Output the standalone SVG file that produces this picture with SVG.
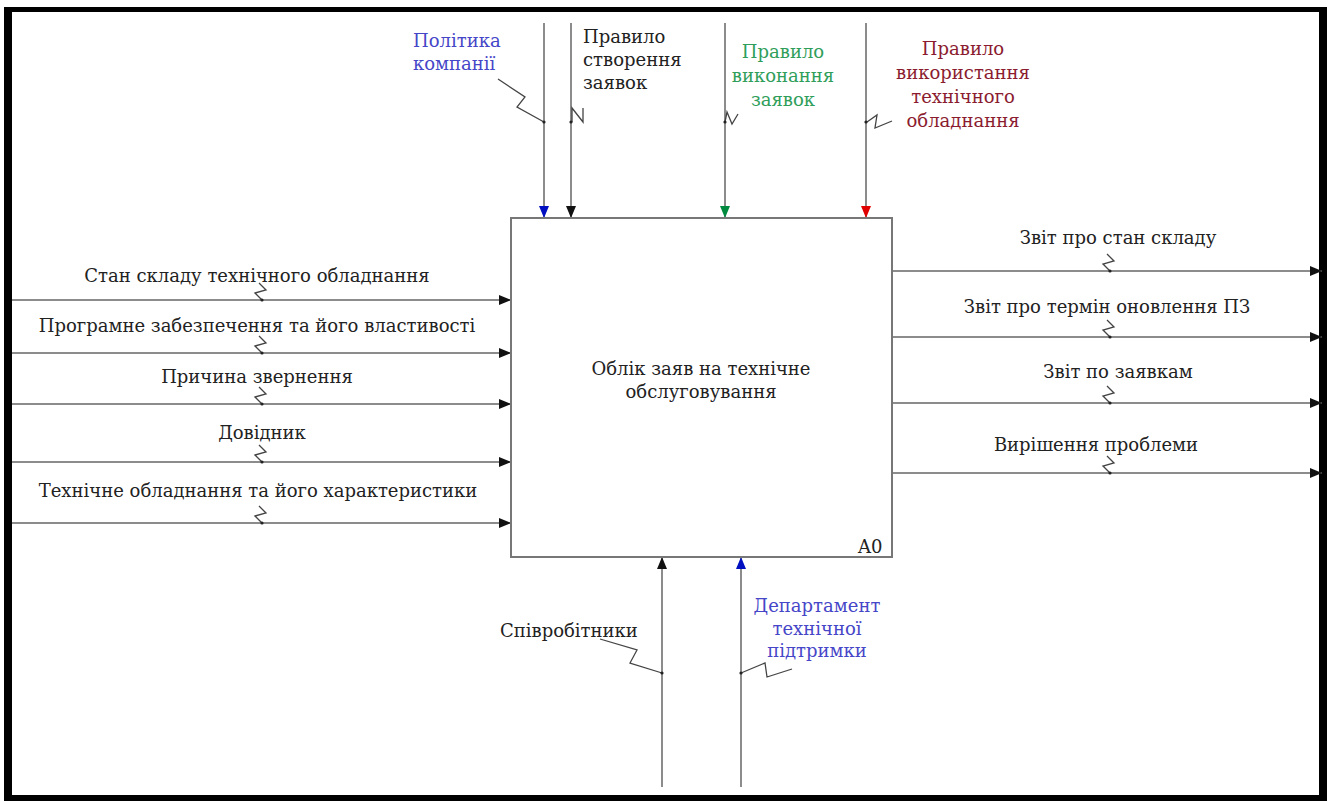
<svg xmlns="http://www.w3.org/2000/svg" width="1333" height="801" viewBox="0 0 1333 801">
<style>
text{font-family:"DejaVu Serif","Liberation Serif",serif;font-size:18px;fill:#222}
.c{text-anchor:middle}
.blue{fill:#4646c8}
.green{fill:#2f9e5a}
.red{fill:#8b1c30}
.ln{stroke:#666;stroke-width:1.5;fill:none}
.sq{stroke:#444;stroke-width:1.3;fill:none}
.dot{fill:#222}
</style>
<defs>
<marker id="aK" markerUnits="userSpaceOnUse" markerWidth="12" markerHeight="10" refX="12" refY="5" orient="auto"><path d="M0,0 L12,5 L0,10 z" fill="#111"/></marker>
<marker id="aB" markerUnits="userSpaceOnUse" markerWidth="12" markerHeight="10" refX="12" refY="5" orient="auto"><path d="M0,0 L12,5 L0,10 z" fill="#0010c0"/></marker>
<marker id="aG" markerUnits="userSpaceOnUse" markerWidth="12" markerHeight="10" refX="12" refY="5" orient="auto"><path d="M0,0 L12,5 L0,10 z" fill="#008a40"/></marker>
<marker id="aR" markerUnits="userSpaceOnUse" markerWidth="12" markerHeight="10" refX="12" refY="5" orient="auto"><path d="M0,0 L12,5 L0,10 z" fill="#e00000"/></marker>
</defs>
<rect x="0" y="0" width="1333" height="801" fill="#fff"/>
<g id="frame" fill="#000">
<rect x="4" y="7" width="1323" height="5"/>
<rect x="4" y="7" width="8" height="794"/>
<rect x="1319" y="7" width="8" height="794"/>
<rect x="4" y="795" width="1323" height="6"/>
</g>
<g id="connectors">
<line class="ln" x1="544" y1="23" x2="544" y2="218" marker-end="url(#aB)"/>
<line class="ln" x1="571" y1="23" x2="571" y2="218" marker-end="url(#aK)"/>
<line class="ln" x1="725" y1="23" x2="725" y2="218" marker-end="url(#aG)"/>
<line class="ln" x1="866" y1="23" x2="866" y2="218" marker-end="url(#aR)"/>
<line class="ln" x1="12" y1="300" x2="511" y2="300" marker-end="url(#aK)"/>
<line class="ln" x1="12" y1="353" x2="511" y2="353" marker-end="url(#aK)"/>
<line class="ln" x1="12" y1="404" x2="511" y2="404" marker-end="url(#aK)"/>
<line class="ln" x1="12" y1="462" x2="511" y2="462" marker-end="url(#aK)"/>
<line class="ln" x1="12" y1="523" x2="511" y2="523" marker-end="url(#aK)"/>
<line class="ln" x1="892" y1="271" x2="1322" y2="271" marker-end="url(#aK)"/>
<line class="ln" x1="892" y1="337" x2="1322" y2="337" marker-end="url(#aK)"/>
<line class="ln" x1="892" y1="403" x2="1322" y2="403" marker-end="url(#aK)"/>
<line class="ln" x1="892" y1="473" x2="1322" y2="473" marker-end="url(#aK)"/>
<line class="ln" x1="662" y1="787" x2="662" y2="557" marker-end="url(#aK)"/>
<line class="ln" x1="741" y1="787" x2="741" y2="557" marker-end="url(#aB)"/>
<path class="sq" d="M498,79 L525,97 L517,107 L544,122"/>
<path class="sq" d="M572,122 L572,108 L583,122 L583,108"/>
<path class="sq" d="M725,122 L727,112 L732,124 L738,114"/>
<path class="sq" d="M867,122 L877,115 L875,128 L892,121"/>
<path class="sq" d="M262,300 L255,293 L266,290 L259,283"/>
<path class="sq" d="M262,353 L255,346 L266,343 L259,336"/>
<path class="sq" d="M262,404 L255,397 L266,394 L259,387"/>
<path class="sq" d="M262,462 L255,455 L266,452 L259,445"/>
<path class="sq" d="M262,523 L255,516 L266,513 L259,506"/>
<path class="sq" d="M1110,271 L1103,264 L1114,261 L1107,254"/>
<path class="sq" d="M1110,337 L1103,330 L1114,327 L1107,320"/>
<path class="sq" d="M1110,403 L1103,396 L1114,393 L1107,386"/>
<path class="sq" d="M1110,473 L1103,466 L1114,463 L1107,456"/>
<path class="sq" d="M600,639 L637,650 L630,663 L662,673"/>
<path class="sq" d="M741,673 L765,663 L767,677 L792,669"/>
<g class="dot">
<circle cx="544" cy="122" r="1.6"/><circle cx="571" cy="122" r="1.6"/><circle cx="725" cy="122" r="1.6"/><circle cx="866" cy="122" r="1.6"/>
<circle cx="262" cy="300" r="1.6"/><circle cx="262" cy="353" r="1.6"/><circle cx="262" cy="404" r="1.6"/><circle cx="262" cy="462" r="1.6"/><circle cx="262" cy="523" r="1.6"/>
<circle cx="1110" cy="271" r="1.6"/><circle cx="1110" cy="337" r="1.6"/><circle cx="1110" cy="403" r="1.6"/><circle cx="1110" cy="473" r="1.6"/>
<circle cx="662" cy="673" r="1.6"/><circle cx="741" cy="673" r="1.6"/>
</g>
</g>
<g id="A0">
<rect x="511" y="218" width="381" height="339" fill="#fff" stroke="#777" stroke-width="2"/>
<text class="c" x="701" y="375">Облік заяв на технічне</text>
<text class="c" x="701" y="398">обслуговування</text>
<text x="858" y="553">A0</text>
</g>
<g id="lbl-policy"><text class="blue" x="413" y="47">Політика</text><text class="blue" x="413" y="70">компанії</text></g>
<g id="lbl-create"><text x="583" y="43">Правило</text><text x="583" y="66">створення</text><text x="583" y="89">заявок</text></g>
<g id="lbl-exec"><text class="c green" x="783" y="58">Правило</text><text class="c green" x="783" y="82">виконання</text><text class="c green" x="783" y="106">заявок</text></g>
<g id="lbl-use"><text class="c red" x="963" y="55">Правило</text><text class="c red" x="963" y="79">використання</text><text class="c red" x="963" y="103">технічного</text><text class="c red" x="963" y="127">обладнання</text></g>
<g id="lbl-in1"><text class="c" x="257" y="282">Стан складу технічного обладнання</text></g>
<g id="lbl-in2"><text class="c" x="257" y="332">Програмне забезпечення та його властивості</text></g>
<g id="lbl-in3"><text class="c" x="257" y="383">Причина звернення</text></g>
<g id="lbl-in4"><text class="c" x="262" y="439">Довідник</text></g>
<g id="lbl-in5"><text class="c" x="258" y="497">Технічне обладнання та його характеристики</text></g>
<g id="lbl-out1"><text class="c" x="1118" y="244">Звіт про стан складу</text></g>
<g id="lbl-out2"><text class="c" x="1107" y="313">Звіт про термін оновлення ПЗ</text></g>
<g id="lbl-out3"><text class="c" x="1118" y="378">Звіт по заявкам</text></g>
<g id="lbl-out4"><text class="c" x="1096" y="451">Вирішення проблеми</text></g>
<g id="lbl-staff"><text x="500" y="637">Співробітники</text></g>
<g id="lbl-dept"><text class="c blue" x="817" y="612">Департамент</text><text class="c blue" x="817" y="635">технічної</text><text class="c blue" x="817" y="657">підтримки</text></g>
</svg>
